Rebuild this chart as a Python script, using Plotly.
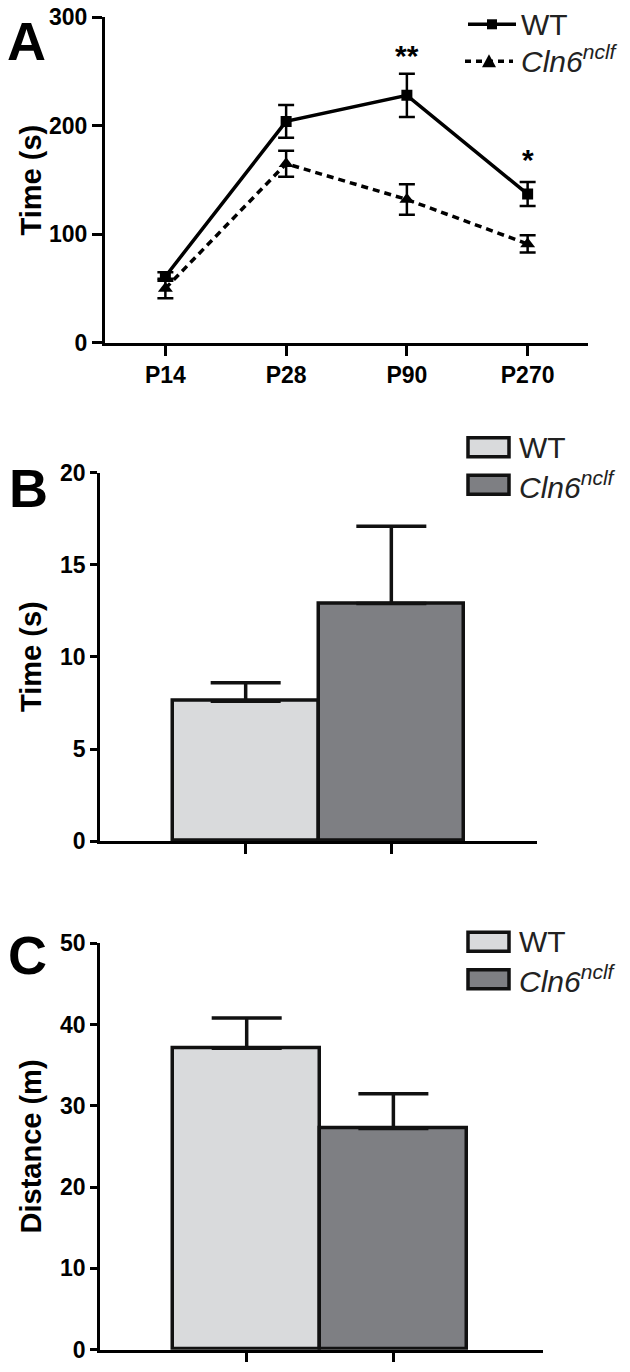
import plotly.graph_objects as go

W, H = 630, 1372

# ---------------- data ----------------
ages = ["P14", "P28", "P90", "P270"]
wt_time_a = [61, 204, 228, 137]
wt_err_a = [4, 15, 20, 11]
cln_time_a = [50, 165, 132, 91]
cln_err_a = [9, 12, 14, 8]
sig_labels = ["", "", "**", "*"]

groups = ["WT", "Cln6"]
time_b = [7.6, 12.9]
err_b = [1.0, 4.2]
dist_c = [37.1, 27.2]
err_c = [3.7, 4.3]

bar_colors = ["#d9dadc", "#7e7f83"]
FONT = "Liberation Sans, Arial, sans-serif"
VS = 0.98  # vertical compensation


def fx(px):
    return px / W


def fy(py):
    p = H / 2 + (py - H / 2) / VS
    return 1 - p / H


fig = go.Figure()

# ---------------- Panel A ----------------
fig.add_trace(go.Scatter(
    x=ages, y=wt_time_a, mode="lines+markers",
    line=dict(color="black", width=3.5),
    marker=dict(symbol="square", size=11, color="black"),
    error_y=dict(type="data", array=wt_err_a, color="black", thickness=2.5, width=8),
    xaxis="x", yaxis="y", showlegend=False))
fig.add_trace(go.Scatter(
    x=ages, y=cln_time_a, mode="lines+markers",
    line=dict(color="black", width=3.5, dash="7px,5px"),
    marker=dict(symbol="triangle-up", size=13, color="black"),
    error_y=dict(type="data", array=cln_err_a, color="black", thickness=2.5, width=8),
    xaxis="x", yaxis="y", showlegend=False))

# ---------------- Panel B ----------------
fig.add_trace(go.Bar(
    x=groups, y=time_b, width=1.0,
    marker=dict(color=bar_colors, line=dict(color="#111111", width=3.5)),
    error_y=dict(type="data", array=err_b, arrayminus=[0, 0], symmetric=False,
                 color="#111111", thickness=3.5, width=35),
    xaxis="x2", yaxis="y2", showlegend=False))

# ---------------- Panel C ----------------
fig.add_trace(go.Bar(
    x=groups, y=dist_c, width=1.0,
    marker=dict(color=bar_colors, line=dict(color="#111111", width=3.5)),
    error_y=dict(type="data", array=err_c, arrayminus=[0, 0], symmetric=False,
                 color="#111111", thickness=3.5, width=35),
    xaxis="x3", yaxis="y3", showlegend=False))

tickfont = dict(family=FONT, size=23, color="black", weight="bold")
ax_common = dict(showline=True, linecolor="black", showgrid=False, zeroline=False,
                 ticks="outside", tickcolor="black", tickfont=tickfont, fixedrange=True)

fig.update_layout(
    width=W, height=H, autosize=False,
    margin=dict(l=0, r=0, t=0, b=0),
    paper_bgcolor="white", plot_bgcolor="white",
    bargap=0,
    xaxis=dict(ax_common, domain=[fx(105), fx(588)], anchor="y", type="category",
               range=[-0.5, 3.5], linewidth=3, tickwidth=3, ticklen=10),
    yaxis=dict(ax_common, domain=[fy(343), fy(18)], anchor="x", range=[0, 300],
               tickvals=[0, 100, 200, 300], linewidth=3, tickwidth=3, ticklen=10),
    xaxis2=dict(ax_common, domain=[fx(100), fx(537)], anchor="y2", type="category",
                range=[-1, 2], showticklabels=False, linewidth=2.5, tickwidth=2.5, ticklen=10),
    yaxis2=dict(ax_common, domain=[fy(841), fy(473)], anchor="x2", range=[0, 20],
                tickvals=[0, 5, 10, 15, 20], linewidth=2.5, tickwidth=2.5, ticklen=7),
    xaxis3=dict(ax_common, domain=[fx(100), fx(543)], anchor="y3", type="category",
                range=[-1, 2.02], showticklabels=False, linewidth=2.5, tickwidth=2.5, ticklen=10),
    yaxis3=dict(ax_common, domain=[fy(1349), fy(943)], anchor="x3", range=[0, 50],
                tickvals=[0, 10, 20, 30, 40, 50], linewidth=2.5, tickwidth=2.5, ticklen=7),
)

ann = []
# panel letters
for letter, cx, cy in [("A", 26, 42), ("B", 28, 488), ("C", 27, 955)]:
    ann.append(dict(text=letter, x=fx(cx), y=fy(cy), xref="paper", yref="paper",
                    xanchor="center", yanchor="middle", showarrow=False,
                    font=dict(family=FONT, size=54, color="black", weight="bold")))
# axis titles
for title, cy in [("Time (s)", 181), ("Time (s)", 657), ("Distance (m)", 1146)]:
    ann.append(dict(text=title, x=fx(31), y=fy(cy), xref="paper", yref="paper",
                    xanchor="center", yanchor="middle", showarrow=False, textangle=-90,
                    font=dict(family=FONT, size=29, color="black", weight="bold")))
# significance stars
for age, lab, val in zip(ages, sig_labels, wt_time_a):
    if lab:
        ann.append(dict(text=lab, x=age, y=val, xref="x", yref="y",
                        yshift=(40 if lab == "**" else 35), showarrow=False,
                        xanchor="center", yanchor="middle",
                        font=dict(family=FONT, size=30, color="black", weight="bold")))

shapes = []
# legend A
shapes.append(dict(type="line", xref="paper", yref="paper", x0=fx(468), x1=fx(516),
                   y0=fy(25), y1=fy(25), line=dict(color="black", width=3.5)))
shapes.append(dict(type="rect", xref="paper", yref="paper", x0=fx(487), x1=fx(497),
                   y0=fy(30), y1=fy(20), fillcolor="black", line=dict(width=0)))
shapes.append(dict(type="line", xref="paper", yref="paper", x0=fx(465), x1=fx(513),
                   y0=fy(62), y1=fy(62), line=dict(color="black", width=3.5, dash="6px,5px")))
tri = "M %f,%f L %f,%f L %f,%f Z" % (fx(482), fy(68), fx(496), fy(68), fx(489), fy(55))
shapes.append(dict(type="path", xref="paper", yref="paper", path=tri,
                   fillcolor="black", line=dict(width=0)))
ann.append(dict(text="WT", x=fx(519), y=fy(25), xref="paper", yref="paper",
                xanchor="left", yanchor="middle", showarrow=False,
                font=dict(family=FONT, size=30, color="#222222")))
ann.append(dict(text="<i>Cln6<sup>nclf</sup></i>", x=fx(519), y=fy(60), xref="paper", yref="paper",
                xanchor="left", yanchor="middle", showarrow=False,
                font=dict(family=FONT, size=30, color="#222222")))

# legends B and C
for top in (438, 932):
    for i, (name, col) in enumerate(zip(["WT", "<i>Cln6<sup>nclf</sup></i>"], bar_colors)):
        y0 = top + i * 37.5
        shapes.append(dict(type="rect", xref="paper", yref="paper", x0=fx(468), x1=fx(509),
                           y0=fy(y0 + 19), y1=fy(y0), fillcolor=col,
                           line=dict(color="#111111", width=3.5)))
        ann.append(dict(text=name, x=fx(517), y=fy(y0 + 9.5), xref="paper", yref="paper",
                        xanchor="left", yanchor="middle", showarrow=False,
                        font=dict(family=FONT, size=30, color="#222222")))

fig.update_layout(annotations=ann, shapes=shapes)
fig.write_html("out.html",
               config={"displayModeBar": False},
               post_script="document.body.style.margin='0px';"
                           "document.body.style.overflow='hidden';")
